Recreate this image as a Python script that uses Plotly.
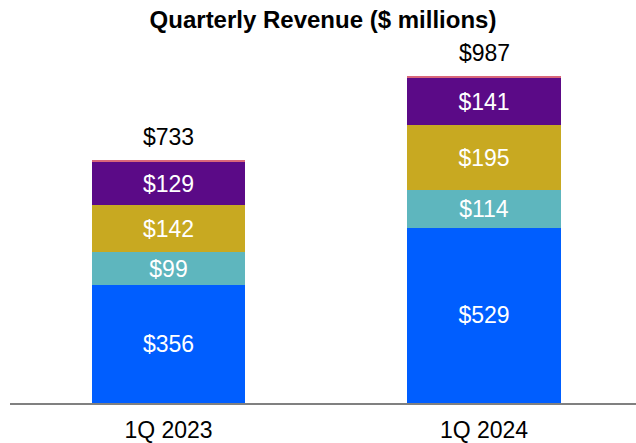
import plotly.graph_objects as go

quarters = ["1Q 2023", "1Q 2024"]
seg1 = [356, 529]
seg2 = [99, 114]
seg3 = [142, 195]
seg4 = [129, 141]
seg5 = [7, 8]
totals = [733, 987]

colors = ["#005EFF", "#5EB6BE", "#C8A921", "#5B0A87", "#D9677A"]
series = [seg1, seg2, seg3, seg4, seg5]
FONT = "Liberation Sans, Arial"

fig = go.Figure()
for i, (vals, c) in enumerate(zip(series, colors)):
    show = i < 4
    fig.add_trace(go.Bar(
        x=quarters, y=vals, marker=dict(color=c, line=dict(width=0)),
        text=[f"${v}" for v in vals] if show else None,
        textposition="inside" if show else "none",
        insidetextanchor="middle",
        textfont=dict(color="white", size=23, family=FONT),
        constraintext="none",
        width=0.485,
        hoverinfo="skip",
    ))

for q, t in zip(quarters, totals):
    fig.add_annotation(x=q, y=t, text=f"${t}", showarrow=False, yanchor="bottom",
                       yshift=8, font=dict(size=23, color="black", family=FONT))

fig.update_layout(
    barmode="stack",
    width=636, height=443,
    margin=dict(l=10, r=0, t=38, b=40),
    plot_bgcolor="white", paper_bgcolor="white",
    showlegend=False,
    title=dict(text="<b>Quarterly Revenue ($ millions)</b>", x=0.5, xanchor="center",
               xref="paper",
               y=1 - 20 / 443, yanchor="middle",
               font=dict(size=24, color="black", family=FONT)),
    xaxis=dict(showline=True, linecolor="#808080", linewidth=2, ticks="",
               tickfont=dict(size=23, color="black", family=FONT),
               ticklabelstandoff=5,
               range=[-0.5024, 1.4818]),
    yaxis=dict(visible=False, range=[0, 1101]),
)

fig.write_html("out.html", config={"displayModeBar": False},
               post_script="document.body.style.margin='0';")
